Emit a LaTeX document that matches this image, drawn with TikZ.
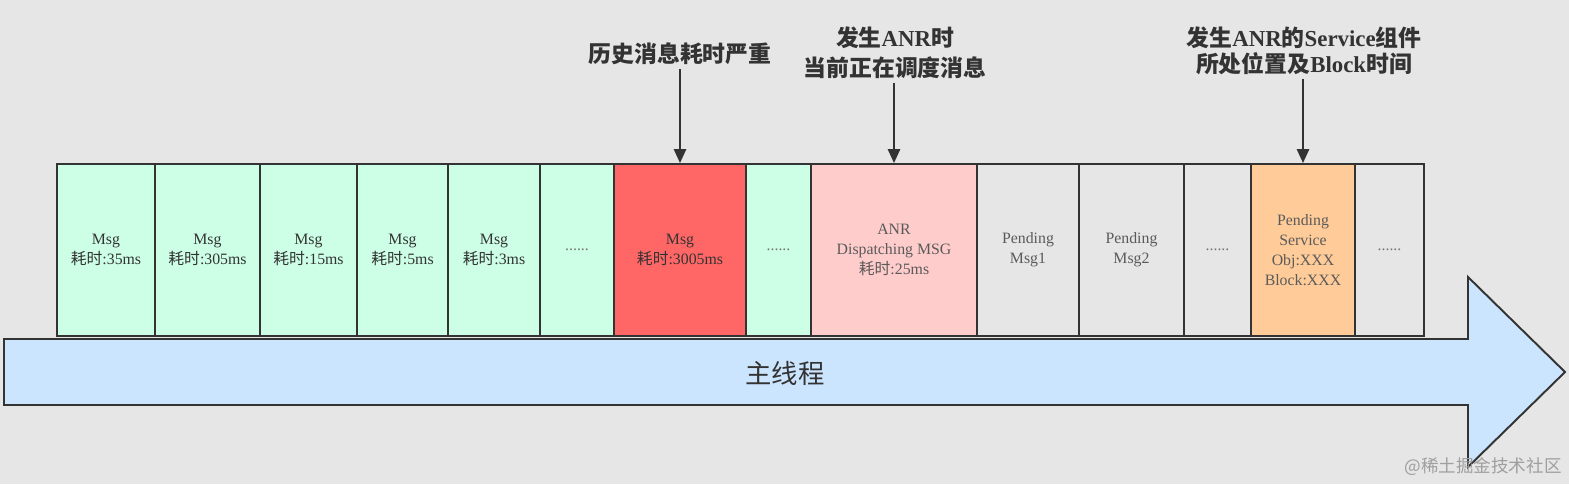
\documentclass[tikz,border=0pt]{standalone}
\usepackage{fontspec}
\setmainfont{Liberation Serif}
\newfontfamily\cjk{Noto Sans CJK SC}
\usepackage{tikz}
\usetikzlibrary{arrows.meta,positioning}

\definecolor{bgc}{HTML}{E6E6E6}
\definecolor{linec}{HTML}{333333}
\definecolor{txtc}{HTML}{333333}
\definecolor{pendc}{HTML}{5A5A5A}
\definecolor{dotc}{HTML}{777777}
\definecolor{msgg}{HTML}{CCFFE6}
\definecolor{msgr}{HTML}{FF6666}
\definecolor{msgp}{HTML}{FFCCCC}
\definecolor{msgo}{HTML}{FFCC99}
\definecolor{arrowc}{HTML}{CCE5FF}
\newcommand{\zh}[1]{{\cjk #1}}

\begin{document}
\begin{tikzpicture}[x=0.02cm,y=-0.02cm,
  msgbox/.style={draw=linec,line width=1.1pt,minimum height=3.44cm,inner sep=0pt,
    align=center,font=\fontsize{9}{11.4}\selectfont},
  tip/.style={font=\bfseries\fontsize{13}{15.5}\selectfont,align=center,text=txtc,inner sep=2pt},
  pointer/.style={-{Triangle[length=8pt,width=7pt]},line width=1.2pt,draw=linec}]
% Background
\useasboundingbox (0,0) rectangle (1569,484);
\fill[bgc] (0,0) rectangle (1569,484);

% Main thread arrow
\draw[line width=1.1pt,draw=linec,fill=arrowc] (4,339) -- (1468,339) -- (1468,277)
  -- (1565,372) -- (1468,467) -- (1468,405) -- (4,405) -- cycle;
\node[font=\cjk\fontsize{15}{18}\selectfont,text=txtc] (main) at (785,373) {主线程};

% Message queue
\foreach \n/\xa/\xb/\col/\tc/\txt in {
    m1/57/155/msgg/txtc/{Msg\\\zh{耗时}:35ms},
    m2/155/260/msgg/txtc/{Msg\\\zh{耗时}:305ms},
    m3/260/357/msgg/txtc/{Msg\\\zh{耗时}:15ms},
    m4/357/448/msgg/txtc/{Msg\\\zh{耗时}:5ms},
    m5/448/540/msgg/txtc/{Msg\\\zh{耗时}:3ms},
    m6/540/614/msgg/dotc/{......},
    m7/614/746/msgr/txtc/{Msg\\\zh{耗时}:3005ms},
    m8/746/811/msgg/dotc/{......},
    m9/811/977/msgp/pendc/{ANR\\Dispatching MSG\\\zh{耗时}:25ms},
    m10/977/1079/bgc/pendc/{Pending\\Msg1},
    m11/1079/1184/bgc/pendc/{Pending\\Msg2},
    m12/1184/1251/bgc/dotc/{......},
    m13/1251/1355/msgo/pendc/{Pending\\Service\\Obj:XXX\\Block:XXX},
    m14/1355/1424/bgc/dotc/{......}}
  \node[msgbox,fill=\col,text=\tc,minimum width={(\xb-\xa)*0.02cm}] (\n) at ({(\xa+\xb)/2},250) {\txt};

% Labels
\node[tip] (t1) at (680,54) {\zh{历史消息耗时严重}};
\node[tip,font=\bfseries\fontsize{13}{17}\selectfont] (t2) at (895,53) {\zh{发生}ANR\zh{时}\\\zh{当前正在调度消息}};
\node[tip,font=\bfseries\fontsize{13}{14.5}\selectfont] (t3) at (1304,51) {\zh{发生}ANR\zh{的}Service\zh{组件}\\\zh{所处位置及}Block\zh{时间}};

\draw[pointer] (m7.north |- t1.south) -- (m7.north);
\draw[pointer] (m9.north |- t2.south) -- (m9.north);
\draw[pointer] (m13.north |- t3.south) -- (m13.north);

% Watermark
\node[font=\cjk\fontsize{10}{12}\selectfont,text=gray!75] (wm) at (1483,467) {@稀土掘金技术社区};
\end{tikzpicture}
\end{document}
